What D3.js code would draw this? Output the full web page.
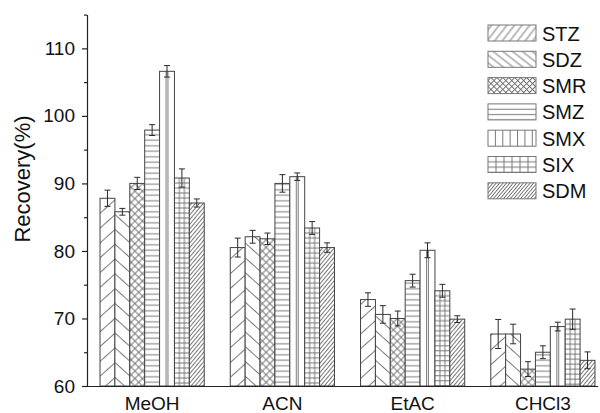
<!DOCTYPE html>
<html>
<head>
<meta charset="utf-8">
<script src="https://cdn.jsdelivr.net/npm/d3@7"></script>
<style>
  body { margin: 0; background: #fff; }
  svg text { font-family: "Liberation Sans", Arial, sans-serif; fill: #111; }
</style>
</head>
<body>
<svg id="chart" width="600" height="413"></svg>
<script>
// Solvents on the x axis and the sulfonamides drawn in each group
const solvents = ["MeOH", "ACN", "EtAC", "CHCl3"];
const analytes = ["STZ", "SDZ", "SMR", "SMZ", "SMX", "SIX", "SDM"];

// Mean recovery (%) for each analyte, ordered as in `solvents`
const STZ = [87.8, 80.5, 72.8, 67.7];
const SDZ = [85.8, 82.1, 70.6, 67.7];
const SMR = [90.0, 81.8, 70.0, 62.5];
const SMZ = [97.9, 90.0, 75.6, 65.0];
const SMX = [106.6, 91.0, 80.1, 68.8];
const SIX = [90.8, 83.4, 74.1, 69.9];
const SDM = [87.1, 80.5, 69.9, 63.8];

// Standard deviations for the error bars
const STZ_sd = [1.2, 1.4, 1.0, 2.15];
const SDZ_sd = [0.5, 0.95, 1.3, 1.45];
const SMR_sd = [0.9, 0.85, 1.1, 1.1];
const SMZ_sd = [0.8, 1.3, 0.95, 0.95];
const SMX_sd = [0.85, 0.55, 1.1, 0.65];
const SIX_sd = [1.35, 0.95, 0.95, 1.5];
const SDM_sd = [0.6, 0.7, 0.5, 1.25];

const yMajorTicks = [60, 70, 80, 90, 100, 110];
const yMinorTicks = [65, 75, 85, 95, 105, 115];
const yDomain = [60, 115];

const means = { STZ, SDZ, SMR, SMZ, SMX, SIX, SDM };
const sds = { STZ: STZ_sd, SDZ: SDZ_sd, SMR: SMR_sd, SMZ: SMZ_sd, SMX: SMX_sd, SIX: SIX_sd, SDM: SDM_sd };

const svg = d3.select("#chart");
const plotLeft = 87, plotBottom = 386, plotTop = 14.6, axisEnd = 598;

const x = d3.scaleBand().domain(solvents).range([plotLeft, 608]).paddingInner(0.2).paddingOuter(0.1);
const xs = d3.scaleBand().domain(analytes).range([0, x.bandwidth()]);
const y = d3.scaleLinear().domain(yDomain).range([plotBottom, plotTop]);

const lineCol = "#6a6a6a", edgeCol = "#444";
const defs = svg.append("defs");

// Hatch fills: lines rotated about the pattern origin
function hatch(id, spacing, angle, cross) {
  const p = defs.append("pattern").attr("id", id)
    .attr("patternUnits", "userSpaceOnUse")
    .attr("width", spacing).attr("height", spacing)
    .attr("patternTransform", `rotate(${angle})`);
  p.append("rect").attr("width", spacing).attr("height", spacing).attr("fill", "#fff");
  p.append("line").attr("x1", 0).attr("x2", spacing).attr("y1", spacing / 2).attr("y2", spacing / 2)
    .attr("stroke", lineCol).attr("stroke-width", 0.9);
  if (cross) p.append("line").attr("y1", 0).attr("y2", spacing).attr("x1", spacing / 2).attr("x2", spacing / 2)
    .attr("stroke", lineCol).attr("stroke-width", 0.9);
}
// Fills tied to each rectangle's own box (vertical / grid lines)
function boxFill(id, w, h, cols, rowGap) {
  const p = defs.append("pattern").attr("id", id)
    .attr("patternUnits", "objectBoundingBox").attr("width", 1).attr("height", 1);
  p.append("rect").attr("width", w).attr("height", h).attr("fill", "#fff");
  cols.forEach(cx => p.append("line").attr("x1", cx).attr("x2", cx).attr("y1", 0).attr("y2", h)
    .attr("stroke", lineCol).attr("stroke-width", 0.9));
  if (rowGap) d3.range(rowGap, h, rowGap).forEach(ry => p.append("line")
    .attr("x1", 0).attr("x2", w).attr("y1", ry).attr("y2", ry)
    .attr("stroke", lineCol).attr("stroke-width", 0.9));
}

const bw = xs.bandwidth();
hatch("f-STZ", 11, -42);
hatch("f-SDZ", 11, 42);
hatch("f-SMR", 5.3, 45, true);
hatch("f-SMZ", 5.5, 0);
hatch("f-SDM", 3, -50);
boxFill("f-SMX", bw, 400, [bw / 2 - 0.9, bw / 2 + 0.9], 0);
boxFill("f-SIX", bw, 400, [bw / 3, 2 * bw / 3], 5);

// legend swatches
const lw = 48, lh = 16;
hatch("l-STZ", 6, -52);
hatch("l-SDZ", 6, 38);
hatch("l-SMR", 4.2, 45, true);
boxFill("l-SMZ", lw, lh, [], lh / 3);
boxFill("l-SMX", lw, lh, d3.range(lw / 6.5, lw, lw / 6.5), 0);
boxFill("l-SIX", lw, lh, d3.range(lw / 6, lw, lw / 6), lh / 3);
hatch("l-SDM", 2.6, -50);

// Bars
const rows = [];
analytes.forEach(a => solvents.forEach((s, i) => rows.push({ a, s, v: means[a][i], e: sds[a][i] })));

const g = svg.append("g");
g.selectAll("rect.bar").data(rows).join("rect").attr("class", "bar")
  .attr("x", d => x(d.s) + xs(d.a))
  .attr("y", d => y(d.v))
  .attr("width", bw)
  .attr("height", d => y(yDomain[0]) - y(d.v))
  .attr("fill", d => `url(#f-${d.a})`)
  .attr("stroke", edgeCol).attr("stroke-width", 1);

// Error bars
const eb = g.selectAll("g.err").data(rows).join("g").attr("class", "err")
  .attr("stroke", "#2a2a2a").attr("stroke-width", 1);
const cx = d => x(d.s) + xs(d.a) + bw / 2;
eb.append("line").attr("x1", cx).attr("x2", cx).attr("y1", d => y(d.v + d.e)).attr("y2", d => y(d.v - d.e));
eb.append("line").attr("x1", d => cx(d) - 3).attr("x2", d => cx(d) + 3).attr("y1", d => y(d.v + d.e)).attr("y2", d => y(d.v + d.e));
eb.append("line").attr("x1", d => cx(d) - 3).attr("x2", d => cx(d) + 3).attr("y1", d => y(d.v - d.e)).attr("y2", d => y(d.v - d.e));

// Axes
const yAxis = svg.append("g").attr("transform", `translate(${plotLeft},0)`)
  .call(d3.axisLeft(y).tickValues(yMajorTicks).tickSize(5).tickPadding(7).tickSizeOuter(0));
svg.append("g").attr("transform", `translate(${plotLeft},0)`)
  .call(d3.axisLeft(y).tickValues(yMinorTicks).tickSize(3).tickFormat("").tickSizeOuter(0))
  .select(".domain").remove();
yAxis.selectAll("text").attr("font-size", 19).attr("font-family", null).attr("fill", "#111");

const xAxis = svg.append("g").attr("transform", `translate(0,${plotBottom})`)
  .call(d3.axisBottom(x).tickSize(0).tickPadding(11));
xAxis.select(".domain").attr("d", `M${plotLeft},0.5H${axisEnd}`);
xAxis.selectAll("text").attr("font-size", 19).attr("font-family", null).attr("fill", "#111");
svg.selectAll(".domain, .tick line").attr("stroke", "#222").attr("stroke-width", 1.2);

svg.append("text")
  .attr("transform", "translate(30,179) rotate(-90)")
  .attr("text-anchor", "middle")
  .attr("font-size", 22)
  .text("Recovery(%)");

// Legend
const legend = svg.append("g").selectAll("g").data(analytes).join("g")
  .attr("transform", (d, i) => `translate(488,${25 + i * 26.3})`);
legend.append("rect").attr("width", lw).attr("height", lh)
  .attr("fill", d => `url(#l-${d})`).attr("stroke", "#777").attr("stroke-width", 1);
legend.append("text").attr("x", 54).attr("y", lh / 2 + 7.5)
  .attr("font-size", 20).text(d => d);
</script>
</body>
</html>
